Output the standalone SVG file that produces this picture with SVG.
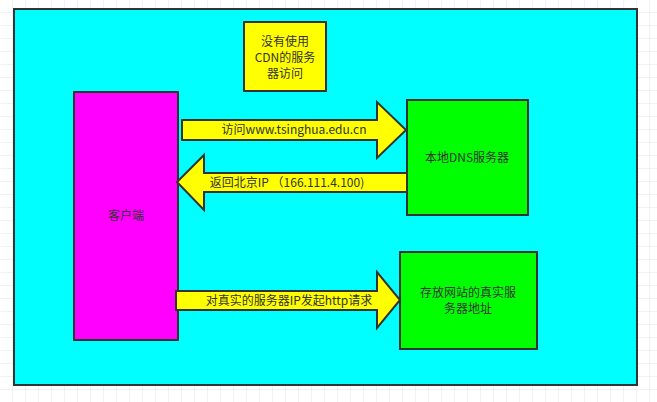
<svg xmlns="http://www.w3.org/2000/svg" width="657" height="402" viewBox="0 0 657 402">
<defs>
<pattern id="g" width="13" height="13" patternUnits="userSpaceOnUse"><path d="M13 0V13H0" fill="none" stroke="#e4e4e4" stroke-width="1"/></pattern>
<style>
.b{stroke:#333;stroke-width:2}
.a{fill:#ffff00;stroke:#333;stroke-width:2}
text{font-family:"Microsoft YaHei","Noto Sans CJK SC",sans-serif;font-size:12px;fill:#333}
</style>
</defs>
<rect width="657" height="402" fill="#fff"/>
<rect width="657" height="402" fill="url(#g)"/>
<rect x="14" y="9" width="623" height="376" fill="#00ffff" class="b"/>
<g id="cdn"><rect x="244" y="22" width="82" height="69" fill="#ffff00" class="b"/>
<text x="285" y="46" text-anchor="middle">没有使用</text><text x="285" y="62" text-anchor="middle">CDN的服务</text><text x="285" y="78" text-anchor="middle">器访问</text></g>
<g id="client"><rect x="74" y="92" width="104" height="248" fill="#ff00ff" class="b"/><text x="126" y="220" text-anchor="middle">客户端</text></g>
<g id="dns"><rect x="407" y="100" width="121" height="115" fill="#00ff00" class="b"/><text x="467" y="162" text-anchor="middle">本地DNS服务器</text></g>
<g id="server"><rect x="400" y="252" width="137" height="97" fill="#00ff00" class="b"/><text x="468" y="297" text-anchor="middle">存放网站的真实服</text><text x="468" y="313" text-anchor="middle">务器地址</text></g>
<g id="connectors">
<polygon class="a" points="182,120 377,120 377,102 406,130 377,158 377,140 182,140"/>
<text x="294" y="134" text-anchor="middle">访问www.tsinghua.edu.cn</text>
<polygon class="a" points="407,173 204,173 204,155 177,182 204,210 204,192 407,192"/>
<text x="287" y="187" text-anchor="middle">返回北京IP （166.111.4.100)</text>
<polygon class="a" points="176,291 377,291 377,272 400,300 377,328 377,310 176,310"/>
<text x="289" y="305" text-anchor="middle">对真实的服务器IP发起http请求</text>
</g>
</svg>
